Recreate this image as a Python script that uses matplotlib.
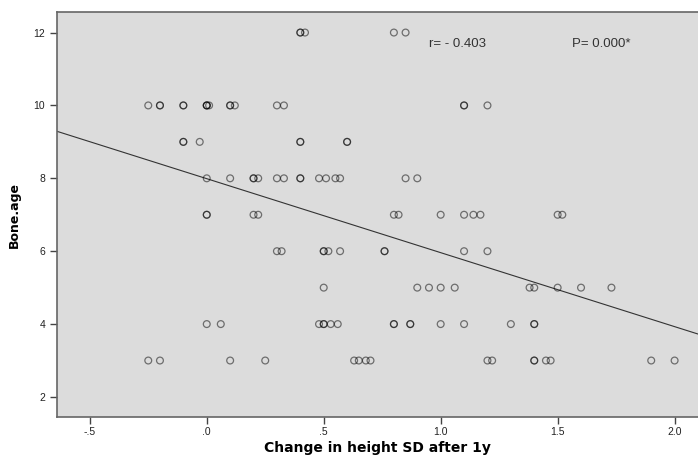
import numpy as np
import matplotlib
matplotlib.use('Agg')
import matplotlib.pyplot as plt

plt.rcParams['font.family'] = ['Liberation Sans', 'DejaVu Sans']

# change in height SD after 1y, grouped by bone age
bone_12 = [0.40, 0.40, 0.42, 0.80, 0.85]
bone_10 = [-0.25, -0.20, -0.20, -0.10, -0.10, 0.00, 0.00, 0.00, 0.01,
           0.10, 0.10, 0.12, 0.30, 0.33, 1.10, 1.10, 1.20]
bone_9 = [-0.10, -0.10, -0.03, 0.40, 0.40, 0.60, 0.60]
bone_8 = [0.00, 0.10, 0.20, 0.20, 0.22, 0.30, 0.33, 0.40, 0.40,
          0.48, 0.51, 0.55, 0.57, 0.85, 0.90]
bone_7 = [0.00, 0.00, 0.20, 0.22, 0.80, 0.82, 1.00, 1.10, 1.14, 1.17,
          1.50, 1.52]
bone_6 = [0.30, 0.32, 0.50, 0.50, 0.52, 0.57, 0.76, 0.76, 1.10, 1.20]
bone_5 = [0.50, 0.90, 0.95, 1.00, 1.06, 1.38, 1.40, 1.50, 1.60, 1.73]
bone_4 = [0.00, 0.06, 0.48, 0.50, 0.50, 0.53, 0.56, 0.80, 0.80, 0.87,
          0.87, 1.00, 1.10, 1.30, 1.40, 1.40]
bone_3 = [-0.25, -0.20, 0.10, 0.25, 0.63, 0.65, 0.68, 0.70, 1.20, 1.22,
          1.40, 1.40, 1.45, 1.47, 1.90, 2.00]

groups = {12: bone_12, 10: bone_10, 9: bone_9, 8: bone_8, 7: bone_7,
          6: bone_6, 5: bone_5, 4: bone_4, 3: bone_3}

# fit line
fit_intercept = 7.99
fit_slope = -2.03

xticks = [-0.5, 0.0, 0.5, 1.0, 1.5, 2.0]
xticklabels = ['-.5', '.0', '.5', '1.0', '1.5', '2.0']
yticks = [2, 4, 6, 8, 10, 12]

x = []
y = []
for age, vals in groups.items():
    x += vals
    y += [age] * len(vals)
x = np.array(x)
y = np.array(y)

fig = plt.figure(figsize=(6.98, 4.58), dpi=100)
ax = fig.add_axes([0.0817, 0.0895, 0.9183, 0.884])
ax.set_facecolor('#dcdcdc')

ax.scatter(x, y, s=24, facecolors='none', edgecolors=(0, 0, 0, 0.5),
           linewidths=0.9, zorder=3)

xl = np.array([-0.64, 2.10])
ax.plot(xl, fit_intercept + fit_slope * xl, color='#333333', lw=0.8, zorder=2)

ax.set_xlim(-0.64, 2.10)
ax.set_ylim(1.45, 12.56)
ax.set_xticks(xticks)
ax.set_xticklabels(xticklabels)
ax.set_yticks(yticks)
ax.tick_params(direction='out', length=5, width=1, colors='#444444',
               labelsize=7.5, labelcolor='#222222')
ax.tick_params(axis='x', pad=2)

for side in ['left', 'bottom', 'top']:
    ax.spines[side].set_color('#666666')
    ax.spines[side].set_linewidth(1.2)
ax.spines['right'].set_visible(False)

ax.text(0.95, 11.69, 'r= - 0.403', fontsize=9.5, color='#333333', va='center')
ax.text(1.56, 11.69, 'P= 0.000*', fontsize=9.5, color='#333333', va='center')

ax.set_xlabel('Change in height SD after 1y', fontsize=10, fontweight='bold',
              family='DejaVu Sans', labelpad=3)
ax.set_ylabel('Bone.age', fontsize=9, fontweight='bold',
              family='DejaVu Sans', labelpad=9)

fig.savefig('out.png', dpi=100)
